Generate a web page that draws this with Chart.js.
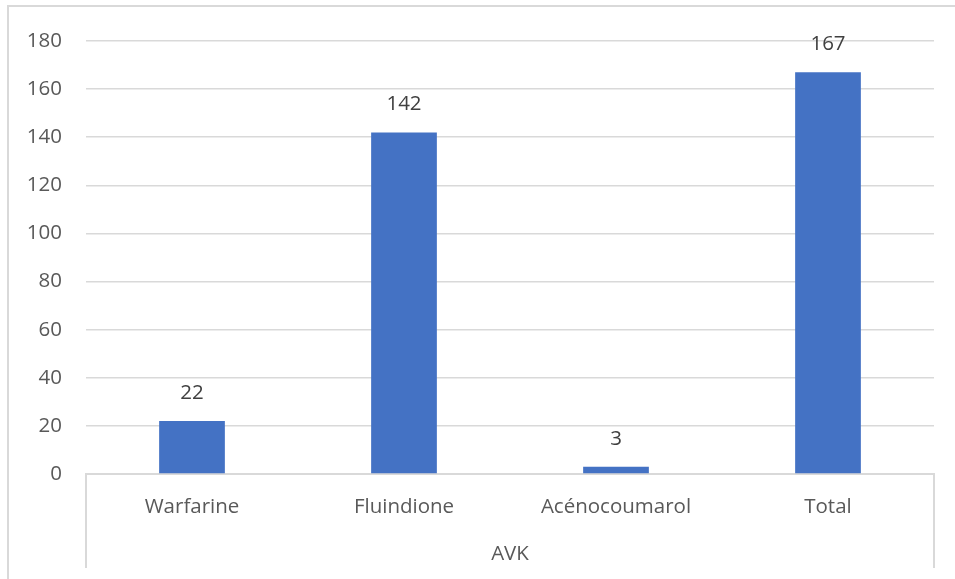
<!DOCTYPE html>
<html>
<head>
<meta charset="utf-8">
<script src="https://cdn.jsdelivr.net/npm/chart.js"></script>
<style>
  html, body { margin: 0; padding: 0; background: #fff; }
  #wrap { position: relative; width: 955px; height: 579px; }
  #frame {
    position: absolute; left: 7px; top: 5px; right: 0; bottom: 0;
    border-left: 2px solid #d9d9d9; border-top: 2px solid #d9d9d9;
    pointer-events: none;
  }
</style>
</head>
<body>
<div id="wrap">
  <canvas id="chart" width="955" height="579"></canvas>
  <div id="frame"></div>
</div>
<script>
// chart values
const categories = ["Warfarine", "Fluindione", "Acénocoumarol", "Total"];
const counts = [22, 142, 3, 167];
const groupLabel = "AVK";
const yTicks = [0, 20, 40, 60, 80, 100, 120, 140, 160, 180];

const FONT = "'Open Sans', sans-serif";
const FSIZE = 20.5;
const GRID = "#d9d9d9";

// value labels above bars + the grouped category level underneath
const extrasPlugin = {
    id: "extras",
    afterDatasetsDraw(chart) {
        const ctx = chart.ctx;
        const meta = chart.getDatasetMeta(0);
        ctx.save();
        ctx.font = FSIZE + "px " + FONT;
        ctx.fillStyle = "#404040";
        ctx.textAlign = "center";
        ctx.textBaseline = "middle";
        meta.data.forEach((bar, i) => {
            ctx.fillText(String(counts[i]), bar.x, bar.y - 28);
        });
        ctx.restore();
    },
    afterDraw(chart) {
        const ctx = chart.ctx;
        const x = chart.scales.x;
        ctx.save();
        ctx.strokeStyle = GRID;
        ctx.lineWidth = 2;
        ctx.beginPath();
        ctx.moveTo(x.left, x.top);
        ctx.lineTo(x.left, x.top + 94);
        ctx.moveTo(x.right, x.top);
        ctx.lineTo(x.right, x.top + 94);
        ctx.stroke();
        ctx.font = FSIZE + "px " + FONT;
        ctx.fillStyle = "#595959";
        ctx.textAlign = "center";
        ctx.textBaseline = "middle";
        ctx.fillText(groupLabel, (x.left + x.right) / 2, x.top + 80);
        ctx.restore();
    }
};

new Chart(document.getElementById("chart"), {
    type: "bar",
    data: {
        labels: categories,
        datasets: [{
            data: counts,
            backgroundColor: "#4472c4",
            borderWidth: 0,
            categoryPercentage: 1,
            barPercentage: 0.31,
        }],
    },
    plugins: [extrasPlugin],
    options: {
        responsive: false,
        animation: false,
        layout: { padding: { top: 41, right: 21, left: 0, bottom: 0 } },
        plugins: {
            legend: { display: false },
            tooltip: { enabled: false },
        },
        scales: {
            x: {
                grid: { display: false, drawTicks: false },
                border: { display: true, color: GRID, width: 2 },
                ticks: {
                    color: "#595959",
                    font: { family: FONT, size: FSIZE },
                    padding: 21,
                    maxRotation: 0,
                },
                afterFit(scale) { scale.height = 105; },
            },
            y: {
                min: 0,
                max: 180,
                grid: { color: GRID, lineWidth: 1.5, drawTicks: false },
                border: { display: false },
                ticks: {
                    color: "#595959",
                    font: { family: FONT, size: FSIZE },
                    padding: 24,
                    stepSize: 20,
                },
                afterBuildTicks(scale) {
                    scale.ticks = yTicks.map(v => ({ value: v }));
                },
                afterFit(scale) { scale.width = 86; },
            },
        },
    },
});
</script>
</body>
</html>
